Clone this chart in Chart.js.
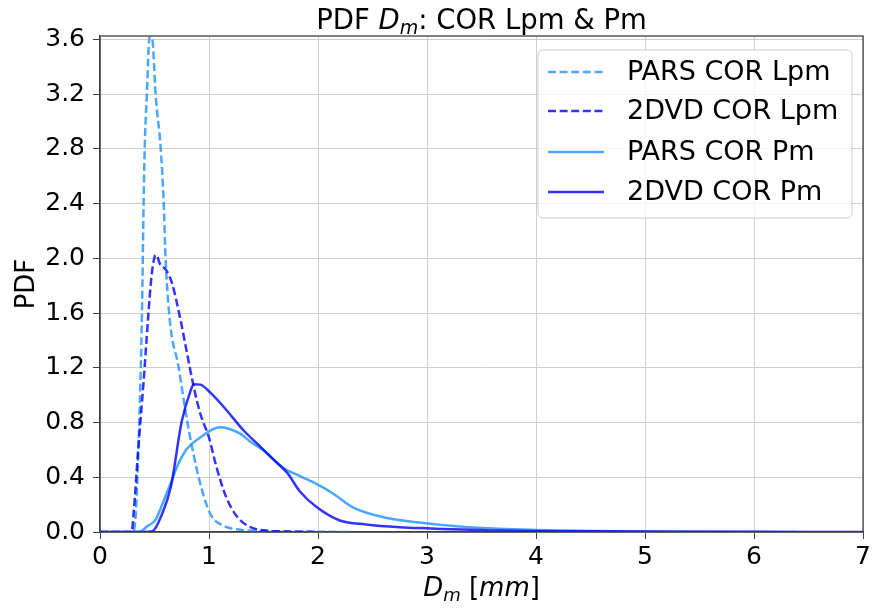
<!DOCTYPE html>
<html><head><meta charset="utf-8">
<script src="https://cdn.jsdelivr.net/npm/chart.js@4.4.0/dist/chart.umd.min.js"></script>
<style>html,body{margin:0;padding:0;background:#fff;}#wrap{width:874px;height:609px;}</style>
</head><body><div id="wrap"><canvas id="c" width="874" height="609"></canvas></div>
<script>
// ---- data ----
const seriesNames = ["PARS COR Lpm", "2DVD COR Lpm", "PARS COR Pm", "2DVD COR Pm"];

const parsLpmX = [0, 0.2, 0.3, 0.33, 0.36, 0.385, 0.40, 0.41, 0.43, 0.455, 0.48, 0.51, 0.557, 0.585, 0.60, 0.64, 0.72, 0.80, 0.905, 1.01, 1.13, 1.3, 1.6, 2.0, 2.31];
const parsLpmY = [0, 0, 0.0, 0.15, 0.8, 1.6, 2.4, 2.8, 3.2, 3.62, 3.6, 3.2, 2.8, 2.4, 2.03, 1.55, 1.21, 0.81, 0.40, 0.135, 0.047, 0.015, 0.005, 0.002, 0];

const dvdLpmX = [0, 0.2, 0.29, 0.31, 0.35, 0.40, 0.44, 0.47, 0.50, 0.515, 0.55, 0.61, 0.66, 0.74, 0.80, 0.86, 0.92, 1.0, 1.07, 1.16, 1.26, 1.38, 1.5, 1.7, 1.99];
const dvdLpmY = [0, 0, 0, 0.15, 0.6, 1.1, 1.55, 1.85, 2.01, 2.025, 1.96, 1.91, 1.82, 1.545, 1.30, 1.06, 0.865, 0.69, 0.47, 0.25, 0.11, 0.035, 0.012, 0.004, 0];

const parsPmX = [0, 0.3, 0.37, 0.43, 0.51, 0.57, 0.63, 0.66, 0.72, 0.80, 0.92, 1.02, 1.10, 1.18, 1.29, 1.38, 1.50, 1.68, 1.83, 1.99, 2.14, 2.32, 2.6, 2.99, 3.3, 3.66, 4.0, 4.5, 5.0, 6.0, 6.4];
const parsPmY = [0, 0, 0.003, 0.04, 0.09, 0.2, 0.32, 0.38, 0.50, 0.61, 0.69, 0.745, 0.765, 0.755, 0.717, 0.66, 0.595, 0.47, 0.41, 0.35, 0.28, 0.18, 0.108, 0.064, 0.04, 0.023, 0.015, 0.008, 0.004, 0.001, 0];

const dvdPmX = [0, 0.4, 0.48, 0.57, 0.65, 0.75, 0.83, 0.86, 0.92, 1.01, 1.14, 1.32, 1.45, 1.59, 1.72, 1.83, 1.99, 2.20, 2.44, 2.75, 3.0, 3.66, 4.5, 5.5, 7.0];
const dvdPmY = [0, 0, 0.005, 0.133, 0.33, 0.81, 1.03, 1.08, 1.077, 1.02, 0.91, 0.74, 0.64, 0.53, 0.43, 0.30, 0.18, 0.084, 0.055, 0.035, 0.027, 0.011, 0.005, 0.002, 0];

const xTickValues = [0, 1, 2, 3, 4, 5, 6, 7];
const yTickValues = [0, 0.4, 0.8, 1.2, 1.6, 2.0, 2.4, 2.8, 3.2, 3.6];

// ---- styles ----
const LIGHT = 'rgba(30,144,255,0.8)';
const DARK = 'rgba(0,0,255,0.8)';
const FONT = '"DejaVu Sans", "Liberation Sans", sans-serif';
const LW = 2.5;

function pts(xs, ys) { return xs.map((x, i) => ({x: x, y: ys[i]})); }

const seriesData = [pts(parsLpmX, parsLpmY), pts(dvdLpmX, dvdLpmY), pts(parsPmX, parsPmY), pts(dvdPmX, dvdPmY)];
const seriesColors = [LIGHT, DARK, LIGHT, DARK];
const seriesDash = [[8, 3.6], [8, 3.6], [], []];

const datasets = seriesData.map((d, i) => ({
  label: seriesNames[i],
  data: d,
  showLine: true,
  borderColor: seriesColors[i],
  backgroundColor: seriesColors[i],
  borderWidth: LW,
  borderDash: seriesDash[i],
  pointRadius: 0,
  cubicInterpolationMode: 'monotone',
  order: 3 - i
}));

function drawParts(ctx, parts, cx, baseline) {
  let total = 0;
  parts.forEach(p => { ctx.font = p.font; p.w = ctx.measureText(p.t).width; total += p.w; });
  let x = cx - total / 2;
  ctx.textBaseline = 'alphabetic';
  ctx.textAlign = 'left';
  parts.forEach(p => { ctx.font = p.font; ctx.fillText(p.t, x, baseline + (p.dy || 0)); x += p.w; });
}

const decor = {
  id: 'decor',
  afterDraw(chart) {
    const ctx = chart.ctx;
    const a = chart.chartArea;
    ctx.save();
    // frame
    ctx.strokeStyle = '#404040';
    ctx.lineWidth = 1.3;
    ctx.strokeRect(a.left, a.top, a.right - a.left, a.bottom - a.top);
    // title
    ctx.fillStyle = '#000';
    drawParts(ctx, [
      {t: 'PDF ', font: '27.5px ' + FONT},
      {t: 'D', font: 'italic 27.5px ' + FONT},
      {t: 'm', font: 'italic 19px ' + FONT, dy: 5},
      {t: ': COR Lpm & Pm', font: '27.5px ' + FONT}
    ], (a.left + a.right) / 2, 29);
    // x label
    drawParts(ctx, [
      {t: 'D', font: 'italic 26px ' + FONT},
      {t: 'm', font: 'italic 18px ' + FONT, dy: 5},
      {t: ' [', font: '26px ' + FONT},
      {t: 'mm', font: 'italic 26px ' + FONT},
      {t: ']', font: '26px ' + FONT}
    ], (a.left + a.right) / 2, 596);
    // y label
    ctx.save();
    ctx.translate(34, (a.top + a.bottom) / 2);
    ctx.rotate(-Math.PI / 2);
    ctx.font = '26px ' + FONT;
    ctx.textAlign = 'center';
    ctx.textBaseline = 'alphabetic';
    ctx.fillText('PDF', 0, 0);
    ctx.restore();
    // legend
    const bx = 538, by = 50, bw = 314, bh = 168, r = 5;
    ctx.beginPath();
    ctx.moveTo(bx + r, by);
    ctx.arcTo(bx + bw, by, bx + bw, by + bh, r);
    ctx.arcTo(bx + bw, by + bh, bx, by + bh, r);
    ctx.arcTo(bx, by + bh, bx, by, r);
    ctx.arcTo(bx, by, bx + bw, by, r);
    ctx.closePath();
    ctx.fillStyle = 'rgba(255,255,255,0.8)';
    ctx.fill();
    ctx.strokeStyle = '#cccccc';
    ctx.lineWidth = 1;
    ctx.stroke();
    const rows = [72, 111, 152, 192];
    chart.data.datasets.forEach((ds, i) => {
      const y = rows[i];
      ctx.beginPath();
      ctx.setLineDash(ds.borderDash || []);
      ctx.strokeStyle = ds.borderColor;
      ctx.lineWidth = LW;
      ctx.moveTo(548, y);
      ctx.lineTo(604, y);
      ctx.stroke();
      ctx.setLineDash([]);
      ctx.fillStyle = '#000';
      ctx.font = '27px ' + FONT;
      ctx.textAlign = 'left';
      ctx.textBaseline = 'middle';
      ctx.fillText(ds.label, 627, y + 1);
    });
    ctx.restore();
  }
};

new Chart(document.getElementById('c'), {
  type: 'scatter',
  data: { datasets: datasets },
  plugins: [decor],
  options: {
    responsive: false,
    animation: false,
    devicePixelRatio: 1,
    layout: { padding: { top: 36, right: 9, left: 0, bottom: 0 } },
    plugins: { legend: { display: false }, title: { display: false }, tooltip: { enabled: false } },
    scales: {
      x: {
        type: 'linear', min: 0, max: 7,
        afterFit(s) { s.height = 77; },
        afterBuildTicks(s) { s.ticks = xTickValues.map(v => ({value: v})); },
        ticks: { color: '#000', font: { family: FONT, size: 25 }, padding: 3, maxRotation: 0, autoSkip: false,
                 callback: v => String(v) },
        grid: { color: '#d0d0d0', lineWidth: 1, tickLength: 7, tickColor: '#404040', drawTicks: true },
        border: { display: true, color: '#404040', width: 1.3 }
      },
      y: {
        type: 'linear', min: 0, max: 3.625,
        afterFit(s) { s.width = 100; },
        afterBuildTicks(s) { s.ticks = yTickValues.map(v => ({value: v})); },
        ticks: { color: '#000', font: { family: FONT, size: 25 }, padding: 8, autoSkip: false,
                 callback: v => Number(v).toFixed(1) },
        grid: { color: '#d0d0d0', lineWidth: 1, tickLength: 7, tickColor: '#404040', drawTicks: true },
        border: { display: true, color: '#404040', width: 1.3 }
      }
    }
  }
});
</script></body></html>
